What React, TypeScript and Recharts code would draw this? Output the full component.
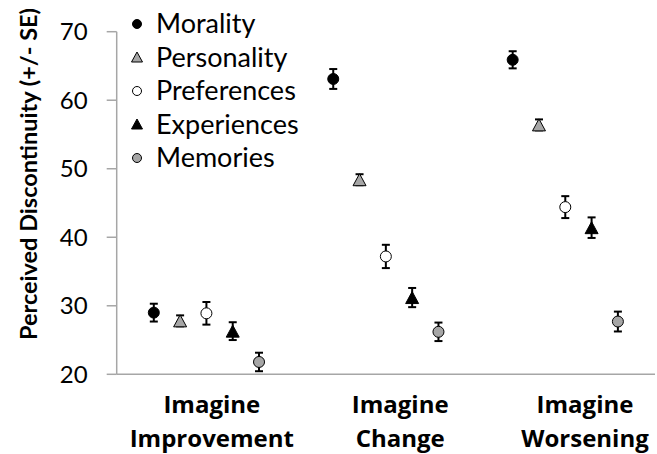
import React from 'react';
import { ScatterChart, Scatter, XAxis, YAxis, ErrorBar } from 'recharts';

const conditions = ['Imagine Improvement', 'Imagine Change', 'Imagine Worsening'];
const groupCenters = [1, 2, 3];
const labelPositions = [1.03, 2.08, 3.11];
const yTicks = [20, 30, 40, 50, 60, 70];

const moralityMean = [29.0, 63.1, 65.9];
const moralitySE = [1.3, 1.45, 1.25];
const personalityMean = [27.8, 48.4, 56.4];
const personalitySE = [0.8, 0.8, 0.8];
const preferencesMean = [28.9, 37.2, 44.4];
const preferencesSE = [1.65, 1.7, 1.6];
const experiencesMean = [26.3, 31.2, 41.4];
const experiencesSE = [1.3, 1.4, 1.5];
const memoriesMean = [21.8, 26.2, 27.7];
const memoriesSE = [1.35, 1.35, 1.45];

const FONT = 'Lato, "Open Sans", sans-serif';
const BOLD_FONT = '"Open Sans", Lato, sans-serif';
const SPREAD = 0.1466;

type Kind = 'circle' | 'triangle';
const seriesDefs: { name: string; mean: number[]; se: number[]; kind: Kind; fill: string }[] = [
  { name: 'Morality', mean: moralityMean, se: moralitySE, kind: 'circle', fill: '#000000' },
  { name: 'Personality', mean: personalityMean, se: personalitySE, kind: 'triangle', fill: '#a6a6a6' },
  { name: 'Preferences', mean: preferencesMean, se: preferencesSE, kind: 'circle', fill: '#ffffff' },
  { name: 'Experiences', mean: experiencesMean, se: experiencesSE, kind: 'triangle', fill: '#000000' },
  { name: 'Memories', mean: memoriesMean, se: memoriesSE, kind: 'circle', fill: '#a6a6a6' },
];

const makeData = (mean: number[], se: number[], idx: number) =>
  mean.map((v, i) => ({ x: groupCenters[i] + (idx - 2) * SPREAD, y: v, err: se[i] }));

const Marker = ({ cx, cy, kind, fill, small }: any) => {
  if (cx == null || cy == null) return null;
  if (kind === 'circle') {
    return <circle cx={cx} cy={cy} r={small ? 4.5 : 5.5} fill={fill} stroke="#000" strokeWidth={1} />;
  }
  const w = small ? 5.5 : 6.5;
  const h = small ? 5 : 6;
  return (
    <polygon
      points={`${cx},${cy - h} ${cx - w},${cy + h} ${cx + w},${cy + h}`}
      fill={fill}
      stroke="#000"
      strokeWidth={1}
    />
  );
};

const CategoryTick = ({ x, payload }: any) => {
  const idx = labelPositions.indexOf(payload.value);
  const [l1, l2] = conditions[idx >= 0 ? idx : 0].split(' ');
  return (
    <text textAnchor="middle" fontFamily={BOLD_FONT} fontWeight="bold" fontSize={24} fill="#000">
      <tspan x={x} y={413}>{l1}</tspan>
      <tspan x={x} y={447}>{l2}</tspan>
    </text>
  );
};

// legend drawn as an overlay so it doesn't eat into the plot area
const LegendBox = () => (
  <div style={{ position: 'absolute', left: 127, top: 6, fontFamily: FONT, fontSize: 27, color: '#000' }}>
    {seriesDefs.map((s) => (
      <div key={s.name} style={{ height: 33.5, lineHeight: '33.5px', display: 'flex', alignItems: 'center' }}>
        <svg width={22} height={32} style={{ marginRight: 7 }}>
          <Marker cx={10} cy={17} kind={s.kind} fill={s.fill} small />
        </svg>
        <span>{s.name}</span>
      </div>
    ))}
  </div>
);

export default function App() {
  return (
    <div style={{ position: 'absolute', left: 0, top: 0, width: 657, height: 454, background: '#fff' }}>
      <ScatterChart width={657} height={454} margin={{ top: 31.7, right: 2, bottom: 9.7, left: 0 }}>
        <XAxis
          type="number"
          dataKey="x"
          domain={[0.5, 3.5]}
          ticks={labelPositions}
          tick={<CategoryTick />}
          tickLine={false}
          axisLine={{ stroke: '#a6a6a6', strokeWidth: 1.5 }}
          height={70}
          interval={0}
        />
        <YAxis
          type="number"
          dataKey="y"
          domain={[20, 70]}
          ticks={yTicks}
          width={116.7}
          tickSize={10}
          tickMargin={19}
          axisLine={{ stroke: '#a6a6a6', strokeWidth: 1.5 }}
          tickLine={{ stroke: '#a6a6a6', strokeWidth: 1.5 }}
          tick={{ fontFamily: FONT, fontSize: 24, fill: '#000' }}
          label={() => (
            <text
              x={37}
              y={174}
              transform="rotate(-90 37 174)"
              textAnchor="middle"
              fontFamily={FONT}
              fontWeight="bold"
              fontSize={23.5}
              fill="#000"
            >
              Perceived Discontinuity (+/- SE)
            </text>
          )}
        />
        {seriesDefs.map((s, idx) => (
          <Scatter
            key={s.name}
            name={s.name}
            data={makeData(s.mean, s.se, idx)}
            isAnimationActive={false}
            shape={(p: any) => <Marker cx={p.cx} cy={p.cy} kind={s.kind} fill={s.fill} />}
          >
            <ErrorBar
              dataKey="err"
              direction="y"
              width={4}
              stroke="#000"
              strokeWidth={2}
              isAnimationActive={false}
            />
          </Scatter>
        ))}
      </ScatterChart>
      <LegendBox />
    </div>
  );
}
